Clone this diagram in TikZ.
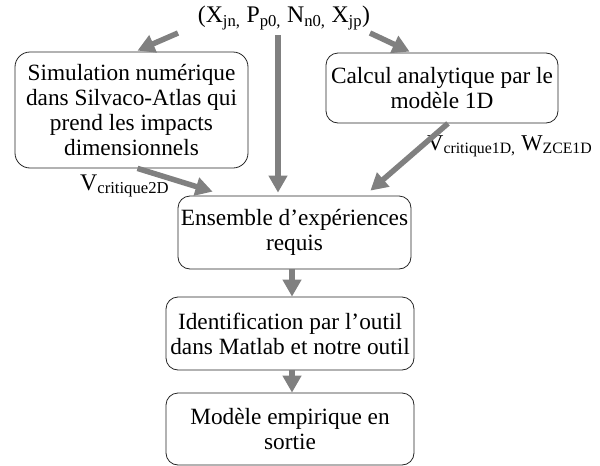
\documentclass[tikz,border=0pt]{standalone}
\usepackage{fontspec}
\setmainfont{Liberation Serif}
\usetikzlibrary{arrows.meta,calc}
\newcommand\sbs[1]{\textsubscript{#1}}
\begin{document}
\begin{tikzpicture}[x=1pt,y=-1pt,
  box/.style={draw=black!85,line width=0.8pt,rounded corners=12pt,align=center,
    font=\fontsize{23.3}{25}\selectfont,inner sep=0pt},
  lab/.style={font=\fontsize{23.8}{25}\selectfont,inner sep=0pt},
  flow/.style={draw=black!50,line width=5.5pt,-{Triangle[length=17pt,width=18pt]}}]
\useasboundingbox[fill=white] (0,0) rectangle (600,466);
\node[lab] (top) at (284,18) {(X\sbs{jn,} P\sbs{p0,} N\sbs{n0,} X\sbs{jp})};
\node[box,minimum width=233pt,minimum height=116pt,rounded corners=15pt] (b1) at (131.5,110)
  {Simulation numérique\\dans Silvaco-Atlas qui\\prend les impacts\\dimensionnels};
\node[box,minimum width=232pt,minimum height=70pt] (b2) at (442,88)
  {Calcul analytique par le\\modèle 1D};
\node[box,minimum width=233pt,minimum height=73pt] (b3) at (294.5,232.5)
  {Ensemble d’expériences\\requis};
\node[box,minimum width=248pt,minimum height=73pt] (b4) at (290,333.5)
  {Identification par l’outil\\dans Matlab et notre outil};
\node[box,minimum width=248pt,minimum height=72pt] (b5) at (290,429)
  {Modèle empirique en\\sortie};
\node[lab,anchor=base west] (l1) at (80,190) {V\sbs{critique2D}};
\node[lab,anchor=base west,font=\fontsize{22.6}{25}\selectfont] (l2) at (427,150) {V\sbs{critique1D,} W\sbs{ZCE1D}};
\coordinate (s1) at (178,33);
\coordinate (s2) at (278,35);
\coordinate (s3) at (370,33);
\draw[flow] (s1) -- ($(b1.north)+(6,-1)$);
\draw[flow] (s2) -- ($(b3.north)+(-16.5,-3)$);
\draw[flow] (s3) -- ($(b2.north west)+(84,-1)$);
\draw[flow] ($(b1.south)+(6,0)$) -- ($(b3.north west)+(35,-4)$);
\draw[flow] ($(b2.south)+(6,0)$) -- ($(b3.north east)+(-41,-5)$);
\draw[flow] ($(b3.south)+(-2.5,0)$) -- ($(b4.north)+(2,0)$);
\draw[flow] ($(b4.south)+(2,0)$) -- ($(b5.north)+(2,0)$);
\end{tikzpicture}
\end{document}
